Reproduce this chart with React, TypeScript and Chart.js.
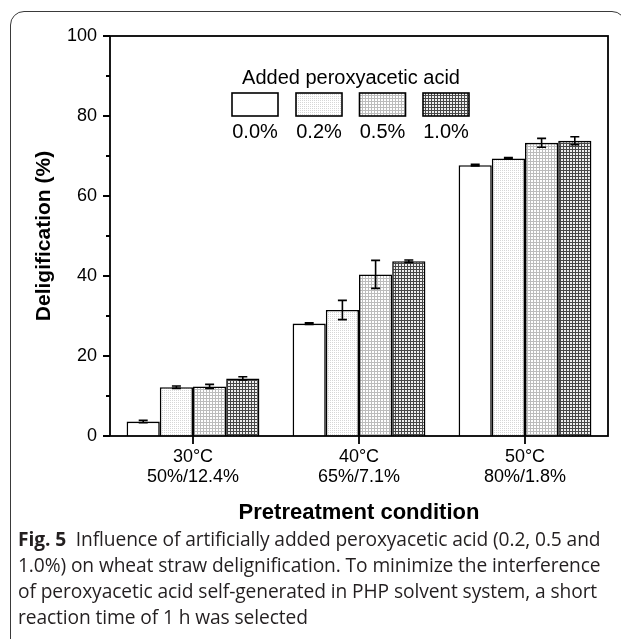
import React, { useEffect, useRef } from 'react';
import { Chart, registerables } from 'chart.js';

Chart.register(...registerables);

// ---------------- data ----------------
const categories: string[][] = [
  ['30°C', '50%/12.4%'],
  ['40°C', '65%/7.1%'],
  ['50°C', '80%/1.8%'],
];
const seriesLabels = ['0.0%', '0.2%', '0.5%', '1.0%'];
const values00 = [3.6, 28.1, 67.7];
const values02 = [12.2, 31.5, 69.4];
const values05 = [12.4, 40.4, 73.3];
const values10 = [14.4, 43.7, 73.8];
const errors00 = [0.3, 0.2, 0.2];
const errors02 = [0.3, 2.4, 0.2];
const errors05 = [0.5, 3.5, 1.1];
const errors10 = [0.4, 0.3, 1.0];
const yTickValues = [0, 20, 40, 60, 80, 100];
const yMinorTickValues = [10, 30, 50, 70, 90];
const legendTitle = 'Added peroxyacetic acid';
const xTitle = 'Pretreatment condition';
const yTitle = 'Deligification (%)';
const captionBold = 'Fig. 5';
const captionLines = [
  'Influence of artificially added peroxyacetic acid (0.2, 0.5 and',
  '1.0%) on wheat straw delignification. To minimize the interference',
  'of peroxyacetic acid self-generated in PHP solvent system, a short',
  'reaction time of 1 h was selected',
];

const seriesValues = [values00, values02, values05, values10];
const seriesErrors = [errors00, errors02, errors05, errors10];

const FONT = "'Liberation Sans', Arial, sans-serif";

function makePattern(
  ctx: CanvasRenderingContext2D,
  size: number,
  bg: string,
  fg: string,
  cells: [number, number][]
) {
  const c = document.createElement('canvas');
  c.width = size;
  c.height = size;
  const g = c.getContext('2d')!;
  g.fillStyle = bg;
  g.fillRect(0, 0, size, size);
  g.fillStyle = fg;
  cells.forEach(([x, y]) => g.fillRect(x, y, 1, 1));
  return ctx.createPattern(c, 'repeat')!;
}

export default function App() {
  const canvasRef = useRef<HTMLCanvasElement | null>(null);

  useEffect(() => {
    const canvas = canvasRef.current!;
    const ctx = canvas.getContext('2d')!;

    const fills: any[] = [
      '#ffffff',
      makePattern(ctx, 2, '#ffffff', '#d6d6d6', [[0, 0]]),
      makePattern(ctx, 3, '#ffffff', '#bcbcbc', [
        [0, 0], [1, 0], [2, 0], [0, 1], [0, 2],
      ]),
      makePattern(ctx, 3, '#eeeeee', '#474747', [
        [0, 0], [1, 0], [2, 0], [0, 1], [0, 2],
      ]),
    ];

    const errorBarPlugin = {
      id: 'errorBars',
      afterDatasetsDraw(chart: any) {
        const c = chart.ctx;
        const y = chart.scales.y;
        c.save();
        c.strokeStyle = '#000';
        c.lineWidth = 1.6;
        chart.data.datasets.forEach((ds: any, i: number) => {
          const meta = chart.getDatasetMeta(i);
          meta.data.forEach((el: any, j: number) => {
            const v = ds.data[j];
            const e = seriesErrors[i][j];
            const yHi = y.getPixelForValue(v + e);
            const yLo = y.getPixelForValue(v - e);
            const x = el.x;
            const cw = 4.5;
            c.beginPath();
            c.moveTo(x, yHi);
            c.lineTo(x, yLo);
            c.moveTo(x - cw, yHi);
            c.lineTo(x + cw, yHi);
            c.moveTo(x - cw, yLo);
            c.lineTo(x + cw, yLo);
            c.stroke();
          });
        });
        c.restore();
      },
    };

    const framePlugin = {
      id: 'frameTicks',
      afterDraw(chart: any) {
        const c = chart.ctx;
        const { left, right, top, bottom } = chart.chartArea;
        const y = chart.scales.y;
        const x = chart.scales.x;
        c.save();
        c.strokeStyle = '#000';
        c.lineWidth = 1.8;
        c.strokeRect(left, top, right - left, bottom - top);
        c.beginPath();
        yTickValues.forEach((v) => {
          const py = y.getPixelForValue(v);
          c.moveTo(left - 7, py);
          c.lineTo(left, py);
        });
        yMinorTickValues.forEach((v) => {
          const py = y.getPixelForValue(v);
          c.moveTo(left - 4, py);
          c.lineTo(left, py);
        });
        categories.forEach((_, i) => {
          const px = x.getPixelForValue(i);
          c.moveTo(px, bottom);
          c.lineTo(px, bottom + 8);
        });
        c.stroke();

        // legend
        const boxW = 46;
        const boxH = 23;
        const centers = [247, 311, 374.5, 438];
        c.fillStyle = '#000';
        c.font = `20px ${FONT}`;
        c.textAlign = 'center';
        c.textBaseline = 'middle';
        c.fillText(legendTitle, 343, 70);
        chart.data.datasets.forEach((ds: any, i: number) => {
          const cx = centers[i];
          c.fillStyle = ds.backgroundColor;
          c.fillRect(cx - boxW / 2, 85, boxW, boxH);
          c.lineWidth = 1.6;
          c.strokeStyle = '#000';
          c.strokeRect(cx - boxW / 2, 85, boxW, boxH);
          c.fillStyle = '#000';
          c.fillText(ds.label, cx, 124);
        });
        c.restore();
      },
    };

    const chart = new Chart(canvas, {
      type: 'bar',
      data: {
        labels: categories,
        datasets: seriesLabels.map((lab, i) => ({
          label: lab,
          data: seriesValues[i],
          backgroundColor: fills[i],
          borderColor: '#000',
          borderWidth: 1.6,
          borderSkipped: 'bottom',
          categoryPercentage: 0.8,
          barPercentage: 1.0,
        })),
      },
      options: {
        animation: false,
        responsive: false,
        devicePixelRatio: 1,
        layout: { padding: { top: 28, right: 13, left: 0, bottom: 0 } },
        plugins: {
          legend: { display: false },
          tooltip: { enabled: false },
        },
        scales: {
          x: {
            grid: { display: false, drawTicks: false },
            border: { display: false },
            ticks: {
              color: '#000',
              padding: 11,
              font: { family: FONT, size: 18, lineHeight: 1.111 },
              maxRotation: 0,
            },
            title: {
              display: true,
              text: xTitle,
              color: '#000',
              font: { family: FONT, size: 22, weight: 'bold' },
              padding: { top: 0, bottom: 2 },
            },
            afterFit: (s: any) => {
              s.height = 92;
            },
          },
          y: {
            min: 0,
            max: 100,
            grid: { display: false, drawTicks: false },
            border: { display: false },
            ticks: {
              stepSize: 20,
              color: '#000',
              padding: 13,
              font: { family: FONT, size: 18 },
            },
            title: {
              display: true,
              text: yTitle,
              color: '#000',
              font: { family: FONT, size: 21, weight: 'bold' },
              padding: { top: 24, bottom: 0 },
            },
            afterFit: (s: any) => {
              s.width = 102;
            },
          },
        },
      },
      plugins: [errorBarPlugin, framePlugin],
    } as any);

    return () => chart.destroy();
  }, []);

  return (
    <div style={{ position: 'relative', width: 613, height: 631, overflow: 'hidden' }}>
      <div
        style={{
          position: 'absolute',
          left: 2,
          top: 2.5,
          width: 616,
          height: 650,
          boxSizing: 'border-box',
          border: '1.4px solid #3a3a3a',
          borderRadius: 14,
        }}
      />
      <canvas
        ref={canvasRef}
        width={613}
        height={520}
        style={{ position: 'absolute', left: 0, top: 0, width: 613, height: 520 }}
      />
      <div
        style={{
          position: 'absolute',
          left: 10,
          top: 518,
          fontFamily: "'Open Sans', sans-serif",
          fontSize: 19.2,
          lineHeight: '26px',
          letterSpacing: '-0.1px',
          color: '#231f20',
          whiteSpace: 'nowrap',
        }}
      >
        <div>
          <span style={{ fontWeight: 'bold' }}>{captionBold}</span>
          {'\u00a0\u00a0' + captionLines[0]}
        </div>
        {captionLines.slice(1).map((l, i) => (
          <div key={i}>{l}</div>
        ))}
      </div>
    </div>
  );
}
